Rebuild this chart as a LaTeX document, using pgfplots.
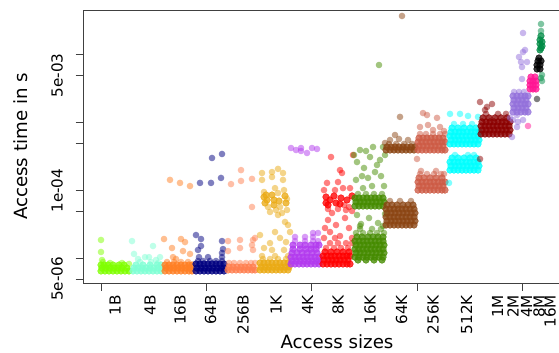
\documentclass[border=0pt]{standalone}
\usepackage{fontspec}
\setmainfont{DejaVu Sans}
\usepackage{pgfplots}
\pgfplotsset{compat=1.18}

\definecolor{cOneB}{HTML}{7FFF00}
\definecolor{cFourB}{HTML}{7FFFD4}
\definecolor{cSixteenB}{HTML}{FF7F24}
\definecolor{cSixtyfourB}{HTML}{000080}
\definecolor{cTwofiftysixB}{HTML}{FF7F50}
\definecolor{cOneK}{HTML}{EAAA14}
\definecolor{cFourK}{HTML}{B23AEE}
\definecolor{cEightK}{HTML}{FF0000}
\definecolor{cSixteenK}{HTML}{458B00}
\definecolor{cSixtyfourK}{HTML}{8B4513}
\definecolor{cTwofiftysixK}{HTML}{CD5B45}
\definecolor{cFivetwelveK}{HTML}{00FFFF}
\definecolor{cOneM}{HTML}{8B0000}
\definecolor{cTwoM}{HTML}{9370DB}
\definecolor{cFourM}{HTML}{FF1493}
\definecolor{cEightM}{HTML}{000000}
\definecolor{cSixteenM}{HTML}{008B45}

% sparse measurements: translucent dots; dense runs: the same dots, piled up
\pgfplotsset{
  dots/.style={only marks, mark=*, mark size=3.3pt, color=#1,
    mark options={draw=#1, fill=#1, draw opacity=0, fill opacity=0.5}},
  band/.style={dots=#1, mark options={fill opacity=0.78}},
}

\begin{document}
\begin{tikzpicture}
\useasboundingbox (0,0) rectangle (559pt,353pt);
\begin{axis}[
  at={(83pt,70pt)}, anchor=south west,
  scale only axis, width=508pt, height=273pt,
  xmin=83, xmax=591,
  ymode=log, ymin=4.366e-6, ymax=4.578e-2,
  axis line style={black!75, line width=0.8pt},
  tick style={black!75, line width=0.8pt},
  tick align=outside,
  xtick pos=bottom, ytick pos=left,
  major tick length=7.5pt,
  xtick={101,206.7,311.7,417.3,522.7},
  xticklabels={,,,,},
  extra x ticks={115,150,180,210.7,243,276,307.5,338,370,401.7,433,466.7,497.7,513,526.7,539,550},
  extra x tick labels={1B,4B,16B,64B,256B,1K,4K,8K,16K,64K,256K,512K,1M,2M,4M,8M,16M},
  extra x tick style={major tick length=0pt},
  ytick={5e-6,1e-5,5e-5,1e-4,5e-4,1e-3,5e-3,1e-2},
  yticklabels={5e-06,,,1e-04,,,5e-03,},
  yminorticks=false,
  tick label style={font=\fontsize{15.2}{16}\selectfont},
  xticklabel style={rotate=90, anchor=east, inner sep=0pt},
  yticklabel style={rotate=90, anchor=south, inner sep=0pt},
  xticklabel shift=12pt,
  yticklabel shift=12.5pt,
  label style={font=\fontsize{18.2}{20}\selectfont},
  xlabel={Access sizes},
  ylabel={Access time in s},
  xlabel style={at={(axis description cs:0.5,-0.216)}, anchor=center},
  ylabel style={at={(axis description cs:-0.123,0.5)}, anchor=center},
]

% ---- 1B
\addplot[band=cOneB] coordinates {
(101,6.56e-6)(105,6.56e-6)(109,6.56e-6)(113,6.56e-6)(117,6.56e-6)(121,6.56e-6)(125,6.56e-6)(129,6.56e-6)
(102,7.26e-6)(106,7.26e-6)(110,7.26e-6)(114,7.26e-6)(118,7.26e-6)(122,7.26e-6)(127,7.26e-6)
(101,8.04e-6)(104,8.04e-6)(108,8.04e-6)(113,8.04e-6)(119,8.04e-6)(124,8.04e-6)
};
\addplot[dots=cOneB] coordinates {
(103,8.90e-6)(110,8.60e-6)(122,8.60e-6)(129,8.32e-6)
(101,1.88e-5)(101,1.25e-5)(102,9.52e-6)
};
% ---- 4B
\addplot[band=cFourB] coordinates {
(133,6.56e-6)(137,6.56e-6)(141,6.56e-6)(145,6.56e-6)(149,6.56e-6)(153,6.56e-6)(157,6.56e-6)(161,6.56e-6)
(134,7.26e-6)(138,7.26e-6)(142,7.26e-6)(146,7.26e-6)(150,7.26e-6)(154,7.26e-6)(158,7.26e-6)(162,7.26e-6)
(136,8.04e-6)(143,8.04e-6)(150,8.04e-6)(157,8.04e-6)(161,8.04e-6)
};
\addplot[dots=cFourB] coordinates {
(140,8.90e-6)(151,8.90e-6)(158,8.60e-6)
(132,1.81e-5)(153,1.53e-5)(134,1.17e-5)(138,9.85e-6)(145,1.05e-5)(149,1.05e-5)(160,1.05e-5)(156,9.52e-6)
};
% ---- 16B
\addplot[band=cSixteenB] coordinates {
(165,6.56e-6)(169,6.56e-6)(173,6.56e-6)(177,6.56e-6)(181,6.56e-6)(185,6.56e-6)(189,6.56e-6)(192,6.56e-6)
(166,7.26e-6)(170,7.26e-6)(174,7.26e-6)(178,7.26e-6)(182,7.26e-6)(186,7.26e-6)(190,7.26e-6)
(165,8.04e-6)(169,8.04e-6)(173,8.04e-6)(177,8.04e-6)(181,8.04e-6)(185,8.04e-6)(189,8.04e-6)(192,8.04e-6)
};
\addplot[dots=cSixteenB] coordinates {
(167,8.90e-6)(174,8.90e-6)(181,8.90e-6)(188,8.90e-6)
(164,1.94e-5)(181,1.94e-5)(185,1.75e-5)(172,1.43e-5)(183,1.29e-5)(173,1.05e-5)(190,1.17e-5)(176,9.85e-6)
(170,1.44e-4)(180,1.30e-4)(190,1.17e-4)
};
% ---- 64B
\addplot[band=cSixtyfourB] coordinates {
(196,6.56e-6)(200,6.56e-6)(204,6.56e-6)(208,6.56e-6)(212,6.56e-6)(216,6.56e-6)(220,6.56e-6)(224,6.56e-6)
(197,7.26e-6)(201,7.26e-6)(205,7.26e-6)(209,7.26e-6)(213,7.26e-6)(217,7.26e-6)(221,7.26e-6)(224,7.26e-6)
(196,8.32e-6)(200,8.32e-6)(204,8.32e-6)(208,8.32e-6)(212,8.32e-6)(216,8.32e-6)(220,8.32e-6)(224,8.32e-6)
};
\addplot[dots=cSixtyfourB] coordinates {
(198,9.20e-6)(203,9.20e-6)(210,9.20e-6)(216,9.20e-6)(222,9.20e-6)
(199,1.05e-5)(208,1.05e-5)(222,1.05e-5)
(196,2.22e-5)(201,1.94e-5)(222,1.81e-5)(223,1.38e-5)(198,1.34e-5)(201,1.53e-5)(222,1.21e-5)
(212,3.03e-4)(222,3.47e-4)(200,1.30e-4)(211,1.30e-4)(221,1.54e-4)
};
% ---- 256B
\addplot[band=cTwofiftysixB] coordinates {
(228,6.79e-6)(232,6.79e-6)(236,6.79e-6)(240,6.79e-6)(244,6.79e-6)(248,6.79e-6)(252,6.79e-6)(255,6.79e-6)
(229,7.51e-6)(233,7.51e-6)(237,7.51e-6)(241,7.51e-6)(245,7.51e-6)(249,7.51e-6)(253,7.51e-6)
};
\addplot[dots=cTwofiftysixB] coordinates {
(229,8.60e-6)(234,8.60e-6)(240,8.60e-6)(246,8.60e-6)(251,8.60e-6)(255,8.60e-6)
(228,1.81e-5)(240,1.88e-5)(253,1.88e-5)(255,2.01e-5)(252,1.58e-5)(240,1.43e-5)(228,1.29e-5)(253,1.34e-5)
(241,2.01e-4)(231,1.25e-4)(241,1.39e-4)(252,1.49e-4)(252,5.75e-5)
};
% ---- 1K
\addplot[band=cOneK] coordinates {
(260,6.79e-6)(264,6.79e-6)(268,6.79e-6)(272,6.79e-6)(276,6.79e-6)(280,6.79e-6)(284,6.79e-6)(288,6.79e-6)
(261,7.51e-6)(265,7.51e-6)(269,7.51e-6)(273,7.51e-6)(277,7.51e-6)(281,7.51e-6)(285,7.51e-6)(289,7.51e-6)
(260,8.60e-6)(264,8.60e-6)(268,8.60e-6)(272,8.60e-6)(276,8.60e-6)(280,8.60e-6)(284,8.60e-6)(288,8.60e-6)
(264,8.07e-5)(265,6.58e-5)(267,7.29e-5)(272,8.63e-5)(274,7.29e-5)(274,6.15e-5)(279,7.04e-5)(285,8.35e-5)
(286,6.58e-5)(266,8.63e-5)
};
\addplot[dots=cOneK] coordinates {
(263,9.85e-6)(270,9.85e-6)(278,9.85e-6)(286,9.85e-6)
(262,1.09e-5)(275,1.09e-5)(288,1.09e-5)
(264,9.56e-5)(268,5.75e-5)(276,5.19e-5)(278,9.24e-5)(280,5.75e-5)(284,1.02e-4)(287,5.19e-5)
(270,4.85e-5)(282,4.69e-5)(287,7.54e-5)
(262,1.82e-4)(262,1.44e-4)(272,1.88e-4)(272,1.59e-4)(278,2.09e-4)(283,1.82e-4)(283,1.44e-4)(275,1.09e-4)
(278,4.38e-5)(285,3.46e-5)(288,3.12e-5)(290,2.46e-5)(275,2.46e-5)(280,2.01e-5)(260,2.22e-5)(264,1.43e-5)
(272,1.34e-5)(284,1.34e-5)(270,1.69e-5)(286,1.75e-5)
};
% ---- 4K
\addplot[band=cFourK] coordinates {
(291,8.32e-6)(295,8.32e-6)(299,8.32e-6)(303,8.32e-6)(307,8.32e-6)(311,8.32e-6)(315,8.32e-6)(319,8.32e-6)
(292,9.20e-6)(296,9.20e-6)(300,9.20e-6)(304,9.20e-6)(308,9.20e-6)(312,9.20e-6)(316,9.20e-6)(319,9.20e-6)
(291,1.05e-5)(295,1.05e-5)(299,1.05e-5)(303,1.05e-5)(307,1.05e-5)(311,1.05e-5)(315,1.05e-5)(319,1.05e-5)
(292,1.21e-5)(297,1.21e-5)(302,1.21e-5)(307,1.21e-5)(312,1.21e-5)(317,1.21e-5)
(293,1.38e-5)(300,1.38e-5)(306,1.38e-5)(311,1.38e-5)(316,1.38e-5)
(293,1.58e-5)(300,1.58e-5)(305,1.58e-5)(311,1.58e-5)(316,1.58e-5)(319,1.58e-5)
};
\addplot[dots=cFourK] coordinates {
(295,1.81e-5)(305,1.81e-5)(313,1.81e-5)(318,1.81e-5)
(295,2.08e-5)(305,2.08e-5)(313,2.08e-5)
(313,2.38e-5)(318,2.38e-5)
(291,4.25e-4)(296,3.97e-4)(301,4.25e-4)(301,3.84e-4)(307,3.59e-4)(312,4.25e-4)(317,4.11e-4)
};
% ---- 8K
\addplot[band=cEightK] coordinates {
(323,8.32e-6)(327,8.32e-6)(331,8.32e-6)(335,8.32e-6)(339,8.32e-6)(343,8.32e-6)(347,8.32e-6)(350,8.32e-6)
(324,9.52e-6)(328,9.52e-6)(332,9.52e-6)(336,9.52e-6)(340,9.52e-6)(344,9.52e-6)(348,9.52e-6)
(323,1.09e-5)(327,1.09e-5)(331,1.09e-5)(335,1.09e-5)(339,1.09e-5)(343,1.09e-5)(347,1.09e-5)(350,1.09e-5)
(325,1.25e-5)(331,1.25e-5)(337,1.25e-5)(343,1.25e-5)(349,1.25e-5)
(326,8.07e-5)(326,6.58e-5)(330,7.29e-5)(334,8.35e-5)(336,6.58e-5)(341,7.80e-5)(347,7.29e-5)(352,8.35e-5)
(328,6.15e-5)(340,6.36e-5)
};
\addplot[dots=cEightK] coordinates {
(326,1.43e-5)(334,1.43e-5)(341,1.43e-5)(348,1.43e-5)
(330,1.69e-5)(338,1.69e-5)(346,1.69e-5)
(324,2.01e-5)(335,2.01e-5)(352,2.01e-5)
(328,5.37e-5)(338,5.37e-5)(344,6.15e-5)(349,5.75e-5)(352,5.02e-5)(332,4.69e-5)(346,5.19e-5)
(331,3.13e-4)(353,3.35e-4)(340,2.01e-4)(342,1.82e-4)(338,1.34e-4)(327,1.30e-4)(343,1.09e-4)(324,1.02e-4)
(335,1.02e-4)(350,1.09e-4)(328,3.70e-5)(336,3.12e-5)(345,3.96e-5)(330,2.46e-5)(349,2.82e-5)(340,2.15e-5)
(325,2.82e-5)(352,1.69e-5)
};
% ---- 16K
\addplot[band=cSixteenK] coordinates {
(358,9.52e-6)(366,9.52e-6)(374,9.52e-6)(382,9.52e-6)
(355,1.05e-5)(359,1.05e-5)(363,1.05e-5)(367,1.05e-5)(371,1.05e-5)(375,1.05e-5)(379,1.05e-5)(383,1.05e-5)
(356,1.21e-5)(360,1.21e-5)(364,1.21e-5)(368,1.21e-5)(372,1.21e-5)(376,1.21e-5)(380,1.21e-5)(384,1.21e-5)
(355,1.38e-5)(359,1.38e-5)(363,1.38e-5)(367,1.38e-5)(371,1.38e-5)(375,1.38e-5)(379,1.38e-5)(383,1.38e-5)
(356,1.58e-5)(360,1.58e-5)(364,1.58e-5)(368,1.58e-5)(372,1.58e-5)(376,1.58e-5)(380,1.58e-5)(384,1.58e-5)
(355,1.81e-5)(359,1.81e-5)(363,1.81e-5)(367,1.81e-5)(371,1.81e-5)(375,1.81e-5)(379,1.81e-5)(383,1.81e-5)
(357,2.08e-5)(362,2.08e-5)(368,2.08e-5)(373,2.08e-5)(378,2.08e-5)(383,2.08e-5)
(355,5.94e-5)(359,5.94e-5)(363,5.94e-5)(367,5.94e-5)(371,5.94e-5)(375,5.94e-5)(379,5.94e-5)(383,5.94e-5)
(356,6.81e-5)(360,6.81e-5)(364,6.81e-5)(368,6.81e-5)(372,6.81e-5)(376,6.81e-5)(380,6.81e-5)(384,6.81e-5)
(355,7.80e-5)(359,7.80e-5)(363,7.80e-5)(367,7.80e-5)(371,7.80e-5)(375,7.80e-5)(379,7.80e-5)(383,7.80e-5)
};
\addplot[dots=cSixteenK] coordinates {
(356,2.38e-5)(363,2.38e-5)(370,2.38e-5)(377,2.38e-5)(384,2.38e-5)
(360,2.73e-5)(372,2.73e-5)(381,2.73e-5)
(358,8.93e-5)(366,8.93e-5)(374,8.93e-5)(382,8.93e-5)
(356,1.44e-4)(362,1.64e-4)(368,1.54e-4)(375,1.88e-4)(381,1.64e-4)(364,2.16e-4)(377,2.39e-4)(354,3.35e-4)
(360,3.97e-4)(366,3.84e-4)(373,4.40e-4)(383,4.40e-4)(370,3.13e-4)(380,2.83e-4)(357,2.64e-4)(385,3.35e-4)
(363,1.09e-4)(372,1.17e-4)(384,1.17e-4)(379,7.09e-3)
(357,4.38e-5)(369,3.96e-5)(378,3.34e-5)(385,4.53e-5)(361,3.23e-5)(383,3.02e-5)(360,3.02e-5)
};
% ---- 64K
\addplot[band=cSixtyfourK] coordinates {
(386,3.12e-5)(390,3.12e-5)(394,3.12e-5)(398,3.12e-5)(402,3.12e-5)(406,3.12e-5)(410,3.12e-5)(414,3.12e-5)
(387,3.57e-5)(391,3.57e-5)(395,3.57e-5)(399,3.57e-5)(403,3.57e-5)(407,3.57e-5)(411,3.57e-5)(415,3.57e-5)
(386,4.09e-5)(390,4.09e-5)(394,4.09e-5)(398,4.09e-5)(402,4.09e-5)(406,4.09e-5)(410,4.09e-5)(414,4.09e-5)
(387,4.69e-5)(391,4.69e-5)(395,4.69e-5)(399,4.69e-5)(403,4.69e-5)(407,4.69e-5)(411,4.69e-5)(415,4.69e-5)
(386,5.37e-5)(390,5.37e-5)(394,5.37e-5)(398,5.37e-5)(402,5.37e-5)(406,5.37e-5)(410,5.37e-5)(414,5.37e-5)
(387,6.15e-5)(392,6.15e-5)(397,6.15e-5)(403,6.15e-5)(408,6.15e-5)(413,6.15e-5)
(386,3.97e-4)(390,3.97e-4)(394,3.97e-4)(398,3.97e-4)(402,3.97e-4)(406,3.97e-4)(410,3.97e-4)(414,3.97e-4)
(387,4.40e-4)(391,4.40e-4)(395,4.40e-4)(399,4.40e-4)(403,4.40e-4)(407,4.40e-4)(411,4.40e-4)(415,4.40e-4)
};
\addplot[dots=cSixtyfourK] coordinates {
(390,7.04e-5)(400,7.04e-5)(411,7.04e-5)
(389,4.87e-4)(396,4.87e-4)(404,4.87e-4)(412,4.87e-4)
(400,1.22e-3)(395,6.60e-4)(390,5.57e-4)(399,5.77e-4)(408,5.57e-4)(402,3.74e-2)(385,5.03e-4)
};
% ---- 256K
\addplot[band=cTwofiftysixK] coordinates {
(418,3.97e-4)(422,3.97e-4)(426,3.97e-4)(430,3.97e-4)(434,3.97e-4)(438,3.97e-4)(442,3.97e-4)(445,3.97e-4)
(419,4.55e-4)(423,4.55e-4)(427,4.55e-4)(431,4.55e-4)(435,4.55e-4)(439,4.55e-4)(443,4.55e-4)
(418,5.21e-4)(422,5.21e-4)(426,5.21e-4)(430,5.21e-4)(434,5.21e-4)(438,5.21e-4)(442,5.21e-4)(445,5.21e-4)
(419,5.96e-4)(423,5.96e-4)(427,5.96e-4)(431,5.96e-4)(435,5.96e-4)(439,5.96e-4)(443,5.96e-4)
(418,1.02e-4)(422,1.02e-4)(426,1.02e-4)(430,1.02e-4)(434,1.02e-4)(438,1.02e-4)(442,1.02e-4)(445,1.02e-4)
(419,1.17e-4)(423,1.17e-4)(427,1.17e-4)(431,1.17e-4)(435,1.17e-4)(439,1.17e-4)(443,1.17e-4)
(418,1.34e-4)(422,1.34e-4)(426,1.34e-4)(430,1.34e-4)(434,1.34e-4)(438,1.34e-4)(442,1.34e-4)(445,1.34e-4)
(419,1.54e-4)(424,1.54e-4)(430,1.54e-4)(436,1.54e-4)(442,1.54e-4)
};
\addplot[dots=cTwofiftysixK] coordinates {
(420,6.83e-4)(426,6.83e-4)(433,6.83e-4)(440,6.83e-4)(445,6.83e-4)
(423,1.39e-3)(427,1.30e-3)(437,1.18e-3)(428,9.27e-4)(440,8.66e-4)(420,8.66e-4)(433,7.82e-4)(444,7.56e-4)
(420,1.76e-4)(427,1.76e-4)(434,1.76e-4)(441,1.76e-4)(444,1.76e-4)
(421,1.95e-4)(436,1.95e-4)(417,2.93e-4)
};
% ---- 512K
\addplot[band=cFivetwelveK] coordinates {
(450,4.87e-4)(454,4.87e-4)(458,4.87e-4)(462,4.87e-4)(466,4.87e-4)(470,4.87e-4)(474,4.87e-4)(478,4.87e-4)
(451,5.57e-4)(455,5.57e-4)(459,5.57e-4)(463,5.57e-4)(467,5.57e-4)(471,5.57e-4)(475,5.57e-4)(479,5.57e-4)
(450,6.38e-4)(454,6.38e-4)(458,6.38e-4)(462,6.38e-4)(466,6.38e-4)(470,6.38e-4)(474,6.38e-4)(478,6.38e-4)
(451,7.31e-4)(455,7.31e-4)(459,7.31e-4)(463,7.31e-4)(467,7.31e-4)(471,7.31e-4)(475,7.31e-4)(479,7.31e-4)
(452,8.37e-4)(458,8.37e-4)(464,8.37e-4)(470,8.37e-4)(476,8.37e-4)
(450,2.01e-4)(454,2.01e-4)(458,2.01e-4)(462,2.01e-4)(466,2.01e-4)(470,2.01e-4)(474,2.01e-4)(478,2.01e-4)
(451,2.31e-4)(455,2.31e-4)(459,2.31e-4)(463,2.31e-4)(467,2.31e-4)(471,2.31e-4)(475,2.31e-4)(479,2.31e-4)
(450,2.64e-4)(454,2.64e-4)(458,2.64e-4)(462,2.64e-4)(466,2.64e-4)(470,2.64e-4)(474,2.64e-4)(478,2.64e-4)
(452,3.03e-4)(458,3.03e-4)(464,3.03e-4)(470,3.03e-4)(476,3.03e-4)
};
\addplot[dots=cFivetwelveK] coordinates {
(454,9.59e-4)(463,9.59e-4)(472,9.59e-4)
(450,1.35e-3)(460,1.35e-3)(468,1.26e-3)(478,1.22e-3)
(455,3.35e-4)(468,3.35e-4)(474,3.35e-4)
(449,1.30e-4)
};
% ---- 1M
\addplot[band=cOneM] coordinates {
(481,6.83e-4)(485,6.83e-4)(489,6.83e-4)(493,6.83e-4)(497,6.83e-4)(501,6.83e-4)(505,6.83e-4)(509,6.83e-4)
(482,7.82e-4)(486,7.82e-4)(490,7.82e-4)(494,7.82e-4)(498,7.82e-4)(502,7.82e-4)(506,7.82e-4)(510,7.82e-4)
(481,8.96e-4)(485,8.96e-4)(489,8.96e-4)(493,8.96e-4)(497,8.96e-4)(501,8.96e-4)(505,8.96e-4)(509,8.96e-4)
(482,1.03e-3)(486,1.03e-3)(490,1.03e-3)(494,1.03e-3)(498,1.03e-3)(502,1.03e-3)(506,1.03e-3)(510,1.03e-3)
(483,1.18e-3)(489,1.18e-3)(495,1.18e-3)(501,1.18e-3)(507,1.18e-3)
};
\addplot[dots=cOneM] coordinates {
(486,1.35e-3)(498,1.35e-3)(506,1.35e-3)
(480,2.02e-3)(487,1.71e-3)(492,1.89e-3)(485,1.54e-3)(480,2.93e-4)
};
% ---- 2M
\addplot[band=cTwoM] coordinates {
(513,1.44e-3)(517,1.44e-3)(521,1.44e-3)(525,1.44e-3)(528,1.44e-3)
(514,1.65e-3)(518,1.65e-3)(522,1.65e-3)(526,1.65e-3)
(513,1.89e-3)(517,1.89e-3)(521,1.89e-3)(525,1.89e-3)(528,1.89e-3)
(514,2.16e-3)(518,2.16e-3)(522,2.16e-3)(526,2.16e-3)
(513,2.48e-3)(517,2.48e-3)(521,2.48e-3)(525,2.48e-3)(528,2.48e-3)
};
\addplot[dots=cTwoM] coordinates {
(514,2.84e-3)(519,2.84e-3)(524,2.84e-3)
(523,2.10e-2)(525,1.18e-2)(523,1.10e-2)(519,9.30e-3)(521,7.85e-3)(527,7.85e-3)(522,6.63e-3)(522,4.41e-3)
(513,1.10e-3)(518,1.03e-3)(523,1.10e-3)(517,8.66e-4)(512,6.17e-4)(510,1.18e-3)(517,1.30e-3)
};
% ---- 4M
\addplot[band=cFourM] coordinates {
(530,3.14e-3)(533,3.14e-3)(536,3.14e-3)(530,3.60e-3)(533,3.60e-3)(536,3.60e-3)
(530,4.12e-3)(533,4.12e-3)(536,4.12e-3)(531,4.72e-3)(535,4.72e-3)
};
\addplot[dots=cFourM] coordinates {(528,8.96e-4)};
% ---- 8M
\addplot[band=cEightM] coordinates {
(537,6.19e-3)(540,6.19e-3)(537,7.09e-3)(540,7.09e-3)(538,8.12e-3)(541,8.12e-3)(539,8.99e-3)
};
\addplot[dots=cEightM] coordinates {(537,2.24e-3)};
% ---- 16M
\addplot[band=cSixteenM] coordinates {
(541,1.90e-2)(540,1.66e-2)(542,1.55e-2)(540,1.45e-2)(542,1.35e-2)(541,1.26e-2)(540,1.18e-2)
};
\addplot[dots=cSixteenM] coordinates {
(541,2.85e-2)(541,2.25e-2)(542,5.05e-3)(541,4.56e-3)(542,4.12e-3)
};
\end{axis}
\end{tikzpicture}
\end{document}
